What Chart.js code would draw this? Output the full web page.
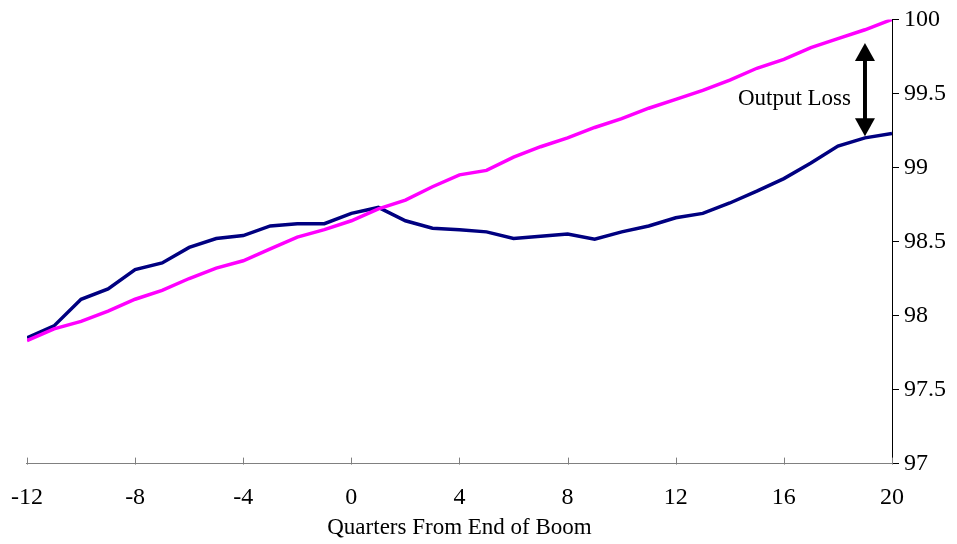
<!DOCTYPE html>
<html>
<head>
<meta charset="utf-8">
<script src="https://cdn.jsdelivr.net/npm/chart.js@4/dist/chart.umd.min.js"></script>
<style>
  html, body { margin: 0; padding: 0; background: #fff; }
  #wrap { width: 957px; height: 544px; }
</style>
</head>
<body>
<div id="wrap"><canvas id="output-chart"></canvas></div>
<script>
// quarters relative to end of boom
var quarters = [-12, -11, -10, -9, -8, -7, -6, -5, -4, -3, -2, -1, 0, 1, 2, 3, 4,
    5, 6, 7, 8, 9, 10, 11, 12, 13, 14, 15, 16, 17, 18, 19, 20];

// pre-boom trend (magenta)
var trendValues = [97.83, 97.91, 97.96, 98.03, 98.11, 98.17, 98.25, 98.32, 98.37, 98.45, 98.53, 98.58, 98.64, 98.72, 98.78, 98.87, 98.95,
    98.98, 99.07, 99.14, 99.20, 99.27, 99.33, 99.40, 99.46, 99.52, 99.59, 99.67, 99.73, 99.81, 99.87, 99.93, 100.0];

// actual output (navy)
var actualValues = [97.85, 97.93, 98.11, 98.18, 98.31, 98.355, 98.46, 98.52, 98.54, 98.605, 98.62, 98.62, 98.69, 98.73, 98.64, 98.59, 98.58,
    98.565, 98.52, 98.535, 98.55, 98.515, 98.565, 98.605, 98.66, 98.69, 98.76, 98.84, 98.925, 99.03, 99.145, 99.20, 99.23];

var yTicks = [97, 97.5, 98, 98.5, 99, 99.5, 100];

// arrow marking the gap
var arrowQuarter = 19;
var arrowTop = 99.84;
var arrowBottom = 99.21;
var arrowLabel = "Output Loss";

function toPoints(values) {
    return quarters.map(function(q, i) {
        return { x: q, y: values[i] };
    });
}

var fontFamily = "'Liberation Serif', 'Times New Roman', serif";

var annotatePlugin = {
    id: 'annotate',
    afterDraw: function(chart) {
        var ctx = chart.ctx;
        var xs = chart.scales.x;
        var ys = chart.scales.y;
        var bottom = chart.chartArea.bottom;

        // inner tick marks on the x axis
        ctx.save();
        ctx.strokeStyle = '#808080';
        ctx.lineWidth = 1;
        xs.ticks.forEach(function(t) {
            var px = Math.round(xs.getPixelForValue(t.value)) + 0.5;
            ctx.beginPath();
            ctx.moveTo(px, bottom - 6);
            ctx.lineTo(px, bottom + 1);
            ctx.stroke();
        });
        ctx.restore();

        // double-headed arrow
        var ax = xs.getPixelForValue(arrowQuarter);
        var aTop = ys.getPixelForValue(arrowTop);
        var aBot = ys.getPixelForValue(arrowBottom);
        var head = 18;
        ctx.save();
        ctx.strokeStyle = '#000';
        ctx.fillStyle = '#000';
        ctx.lineWidth = 4;
        ctx.beginPath();
        ctx.moveTo(ax, aTop + head - 2);
        ctx.lineTo(ax, aBot - head + 2);
        ctx.stroke();
        ctx.beginPath();
        ctx.moveTo(ax, aTop);
        ctx.lineTo(ax - 10, aTop + head);
        ctx.lineTo(ax + 10, aTop + head);
        ctx.closePath();
        ctx.fill();
        ctx.beginPath();
        ctx.moveTo(ax, aBot);
        ctx.lineTo(ax - 10, aBot - head);
        ctx.lineTo(ax + 10, aBot - head);
        ctx.closePath();
        ctx.fill();

        ctx.font = '23px ' + fontFamily;
        ctx.textAlign = 'right';
        ctx.textBaseline = 'middle';
        ctx.fillText(arrowLabel, ax - 14, (aTop + aBot) / 2 + 9);
        ctx.restore();
    }
};

var ctx = document.getElementById('output-chart');
var outputChart = new Chart(ctx, {
    type: 'line',
    data: {
        datasets: [{
            label: 'Trend',
            data: toPoints(trendValues),
            borderColor: '#FF00FF',
            borderWidth: 3.5,
            pointRadius: 0,
            tension: 0
        }, {
            label: 'Actual',
            data: toPoints(actualValues),
            borderColor: '#000080',
            borderWidth: 3.5,
            pointRadius: 0,
            tension: 0
        }]
    },
    options: {
        responsive: true,
        maintainAspectRatio: false,
        animation: false,
        layout: {
            padding: { top: 4, right: 6, left: 1, bottom: 2 }
        },
        plugins: {
            legend: { display: false },
            tooltip: { enabled: false }
        },
        scales: {
            x: {
                type: 'linear',
                min: -12,
                max: 20,
                grid: { display: false, drawTicks: true, tickLength: 9 },
                border: { display: true, color: '#808080', width: 1 },
                ticks: {
                    stepSize: 4,
                    color: '#000',
                    padding: 11,
                    maxRotation: 0,
                    font: { family: fontFamily, size: 24 }
                },
                title: {
                    display: true,
                    text: 'Quarters From End of Boom',
                    color: '#000',
                    font: { family: fontFamily, size: 23 },
                    padding: { top: -9, bottom: 0 }
                }
            },
            y: {
                position: 'right',
                min: 97,
                max: 100,
                afterBuildTicks: function(scale) {
                    scale.ticks = yTicks.map(function(v) { return { value: v }; });
                },
                grid: {
                    drawOnChartArea: false,
                    drawTicks: true,
                    tickLength: 7,
                    color: '#000'
                },
                border: { display: true, color: '#000', width: 1 },
                ticks: {
                    color: '#000',
                    padding: 5,
                    font: { family: fontFamily, size: 24 },
                    callback: function(v) { return String(v); }
                }
            }
        }
    },
    plugins: [annotatePlugin]
});
</script>
</body>
</html>
